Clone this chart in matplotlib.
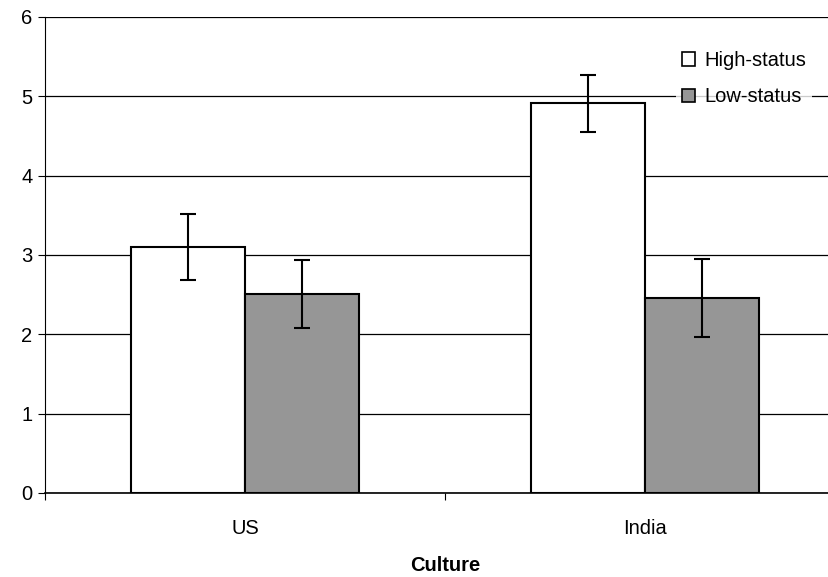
import matplotlib.pyplot as plt
import numpy as np

plt.rcParams['font.family'] = ['Liberation Sans', 'DejaVu Sans']

cultures = ['US', 'India']
high_status = [3.10, 4.91]
high_err = [0.42, 0.36]
low_status = [2.51, 2.46]
low_err = [0.43, 0.49]

fig = plt.figure(figsize=(8.29, 5.77), dpi=100)
# plot area runs a little past the right edge of the figure
ax = fig.add_axes([45 / 829, 1 - 493 / 577, 800 / 829, 476 / 577])

x = np.arange(len(cultures)) + 0.5
w = 0.285
ebar = dict(ecolor='black', capsize=6, elinewidth=1.5, capthick=1.5)
ax.bar(x - w / 2, high_status, w, yerr=high_err, color='white',
       edgecolor='black', linewidth=1.5, label='High-status', zorder=3,
       error_kw=ebar)
ax.bar(x + w / 2, low_status, w, yerr=low_err, color='#969696',
       edgecolor='black', linewidth=1.5, label='Low-status', zorder=3,
       error_kw=ebar)

fs = 14.5
ax.set_xlim(0, 2)
ax.set_ylim(0, 6)
ax.set_yticks(range(7))
ax.yaxis.grid(True, color='black', linewidth=0.9, zorder=0)
ax.set_xticks([0, 1, 2])
ax.set_xticklabels([])
ax.set_xticks(x, minor=True)
ax.set_xticklabels(cultures, minor=True)
ax.tick_params(axis='x', which='minor', length=0, pad=19, labelsize=fs)
ax.tick_params(axis='x', which='major', length=5, direction='out')
ax.tick_params(axis='y', length=5, direction='out', labelsize=fs, pad=4)

for s in ['top', 'right']:
    ax.spines[s].set_visible(False)
ax.spines['left'].set_color('black')
ax.spines['bottom'].set_color('black')
ax.spines['bottom'].set_linewidth(1.2)
ax.axhline(6, color='#808080', linewidth=1.2, zorder=1)

ax.set_xlabel('Culture', fontweight='bold', fontsize=fs, labelpad=13)

leg = ax.legend(loc='upper left', bbox_to_anchor=(621 / 800, 0.962),
                frameon=True, fancybox=False, edgecolor='white',
                fontsize=fs, handlelength=0.65, handleheight=0.65,
                handletextpad=0.45, labelspacing=0.85, borderpad=0.3)
leg.get_frame().set_linewidth(0)
for h in leg.legend_handles:
    h.set_linewidth(1.2)

fig.savefig('out.png', dpi=100)
